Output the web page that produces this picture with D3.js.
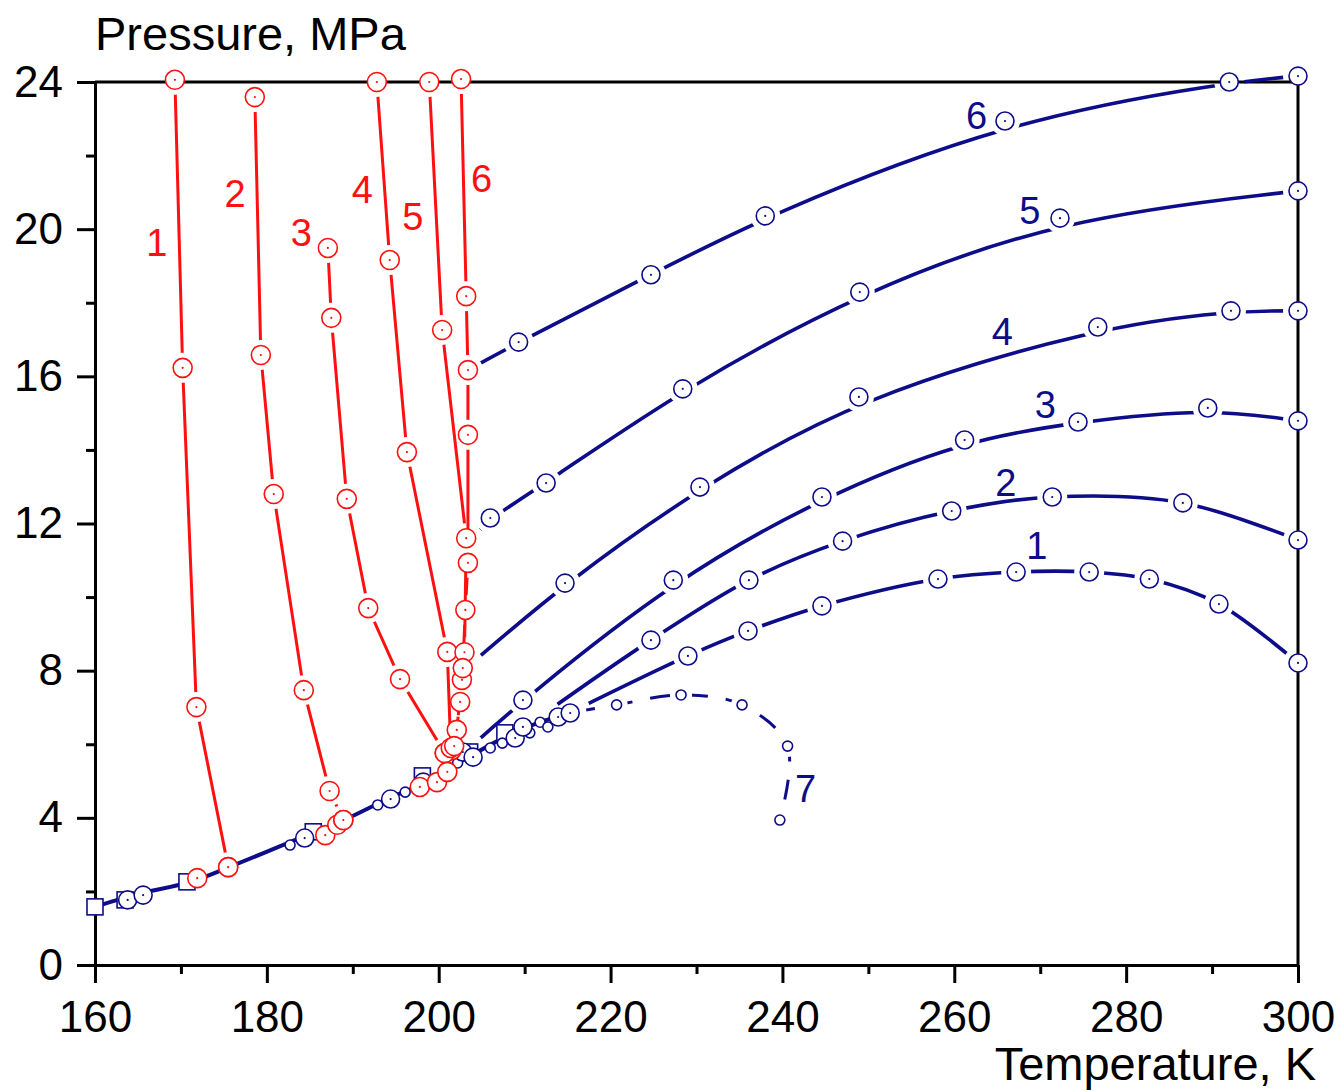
<!DOCTYPE html>
<html>
<head>
<meta charset="utf-8">
<script src="https://cdn.jsdelivr.net/npm/d3@7"></script>
<style>
body { margin: 0; background: #fff; }
svg { display: block; font-family: "Liberation Sans", Arial, sans-serif; }
</style>
</head>
<body>
<svg id="chart" width="1341" height="1091"></svg>
<script>
// colours
const navy = "#0d0d8a", red = "#ff1010";

// red isochores [T (K), P (MPa)]
const red1 = [[169.3, 24.06], [170.2, 16.23], [171.8, 7.01], [175.5, 2.66]];
const red2 = [[178.6, 23.59], [179.3, 16.58], [180.8, 12.80], [184.3, 7.47], [187.3, 4.73], [188.9, 3.94]];
const red3 = [[187.1, 19.49], [187.5, 17.59], [189.3, 12.67], [191.8, 9.70], [195.5, 7.77], [200.7, 5.76]];
const red4 = [[192.8, 24.0], [194.3, 19.16], [196.3, 13.94], [201.0, 8.51], [201.4, 5.9]];
const red5 = [[198.9, 24.0], [200.4, 17.26], [203.2, 11.6], [203.0, 8.5], [202.7, 7.75], [202.1, 6.39], [201.0, 5.25]];
const red6 = [[202.6, 24.08], [203.2, 18.18], [203.4, 16.17], [203.4, 14.41], [203.4, 10.93], [203.1, 9.65],
              [202.8, 8.07], [202.5, 7.15], [201.8, 5.95]];

// blue isochores
const blue1 = [[215.9, 6.93], [229.0, 8.40], [236.0, 9.08], [244.6, 9.76], [258.1, 10.49], [267.2, 10.68],
               [275.7, 10.68], [282.7, 10.49], [290.8, 9.81], [300, 8.21]];
const blue2 = [[212.4, 6.85], [224.7, 8.83], [236.1, 10.46], [247.0, 11.52], [259.7, 12.34], [271.4, 12.72],
               [286.6, 12.56], [300, 11.55]];
const blue3 = [[203.6, 5.9], [209.8, 7.20], [227.3, 10.46], [244.6, 12.72], [261.2, 14.27], [274.4, 14.76],
               [289.5, 15.14], [300, 14.79]];
const blue4 = [[203.6, 8.15], [214.7, 10.38], [230.4, 12.99], [248.9, 15.44], [276.7, 17.34], [292.2, 17.78], [300, 17.78]];
const blue5 = [[203.6, 11.55], [206.0, 12.15], [212.5, 13.10], [228.4, 15.66], [249.0, 18.29], [272.3, 20.30], [300, 21.04]];
const blue6 = [[203.4, 16.17], [209.3, 16.93], [224.7, 18.76], [238.0, 20.36], [265.9, 22.94], [292.0, 24.0], [300, 24.16]];
const curve7 = [[215.9, 6.88], [220.7, 7.07], [228.2, 7.34], [235.3, 7.07], [240.6, 5.95], [239.7, 3.94]];

// saturation line and its points (kind: c circle, s small circle, q square, r red circle)
const satLine = [[160, 1.58], [163.8, 1.85], [165.6, 1.96], [171.1, 2.26], [175.6, 2.66], [182.7, 3.34], [188.5, 3.89],
                 [194.3, 4.54], [197.8, 4.89], [202.5, 5.52], [207.1, 6.12], [211.8, 6.60], [215.9, 6.88]];
const satMarks = [
  [160.0, 1.58, "q"], [163.5, 1.77, "q"], [163.8, 1.77, "c"], [165.6, 1.90, "c"], [170.7, 2.26, "q"],
  [171.9, 2.36, "r"], [175.5, 2.66, "r"], [182.7, 3.26, "s"], [184.4, 3.45, "c"], [185.4, 3.62, "q"],
  [186.8, 3.53, "r"], [188.2, 3.81, "r"], [188.9, 3.94, "r"], [192.9, 4.35, "s"], [194.4, 4.51, "c"],
  [196.1, 4.70, "s"], [198.1, 5.14, "q"], [198.2, 4.97, "c"], [197.8, 4.84, "r"], [199.8, 4.97, "r"],
  [201.1, 5.30, "s"], [202.2, 5.49, "s"], [200.7, 5.76, "r"], [201.5, 5.84, "r"], [202.8, 5.79, "c"],
  [203.6, 5.79, "q"], [204.0, 5.65, "c"], [206.0, 5.90, "s"], [207.4, 6.03, "s"], [207.7, 6.31, "q"],
  [208.9, 6.17, "c"], [209.8, 6.47, "c"], [210.6, 6.31, "s"], [211.8, 6.60, "s"], [212.7, 6.47, "s"],
  [213.9, 6.74, "c"], [215.3, 6.85, "c"]
];

// curve labels [text, T, P, colour key]
const labels = [
  ["1", 167.2, 19.65, "r"], ["2", 176.3, 20.98, "r"], ["3", 184.0, 19.92, "r"], ["4", 191.1, 21.07, "r"],
  ["5", 197.0, 20.36, "r"], ["6", 205.0, 21.39, "r"],
  ["6", 262.6, 23.10, "b"], ["5", 268.8, 20.52, "b"], ["4", 265.6, 17.21, "b"], ["3", 270.6, 15.25, "b"],
  ["2", 266.0, 13.13, "b"], ["1", 269.6, 11.42, "b"], ["7", 242.7, 4.81, "b"]
];

const xMajor = d3.range(160, 301, 20), xMinor = d3.range(170, 300, 20);
const yMajor = d3.range(0, 25, 4), yMinor = d3.range(2, 24, 4);

const svg = d3.select("#chart");
const x = d3.scaleLinear().domain([160, 300]).range([95, 1298]);
const y = d3.scaleLinear().domain([0, 24]).range([965, 82]);

// axes
function styleAxis(g) {
  g.selectAll("path.domain").attr("stroke", "#000").attr("stroke-width", 3);
  g.selectAll(".tick line").attr("stroke", "#000").attr("stroke-width", 3);
  g.selectAll(".tick text").attr("fill", "#000").attr("font-size", 44)
    .attr("font-family", "Liberation Sans, Arial, sans-serif");
}
svg.append("g").attr("transform", "translate(0,965)")
  .call(d3.axisBottom(x).tickValues(xMinor).tickSize(9).tickSizeOuter(0).tickFormat(""))
  .call(styleAxis);
svg.append("g").attr("transform", "translate(0,965)")
  .call(d3.axisBottom(x).tickValues(xMajor).tickSize(18).tickPadding(18).tickSizeOuter(0))
  .call(styleAxis);
svg.append("g").attr("transform", "translate(95,0)")
  .call(d3.axisLeft(y).tickValues(yMinor).tickSize(9).tickSizeOuter(0).tickFormat(""))
  .call(styleAxis);
svg.append("g").attr("transform", "translate(95,0)")
  .call(d3.axisLeft(y).tickValues(yMajor).tickSize(18).tickPadding(14).tickSizeOuter(0))
  .call(styleAxis);

// frame top and right
svg.append("line").attr("x1", x(160)).attr("x2", x(300) + 1.5).attr("y1", y(24)).attr("y2", y(24))
  .attr("stroke", "#000").attr("stroke-width", 3);
svg.append("line").attr("x1", x(300)).attr("x2", x(300)).attr("y1", y(24)).attr("y2", y(0))
  .attr("stroke", "#000").attr("stroke-width", 3);

svg.append("text").attr("x", 95).attr("y", 50).attr("font-size", 47).text("Pressure, MPa");
svg.append("text").attr("x", 1316).attr("y", 1080).attr("font-size", 47).attr("text-anchor", "end")
  .text("Temperature, K");

const defs = svg.append("defs");
let maskId = 0;

// a line that stops short of its own markers
function series(pts, color, curve, width, r, dash) {
  const id = "gap" + (maskId++);
  const m = defs.append("mask").attr("id", id).attr("maskUnits", "userSpaceOnUse")
    .attr("x", 0).attr("y", 0).attr("width", 1341).attr("height", 1091);
  m.append("rect").attr("width", 1341).attr("height", 1091).attr("fill", "#fff");
  m.selectAll("circle").data(pts).join("circle")
    .attr("cx", d => x(d[0])).attr("cy", d => y(d[1])).attr("r", r + 6).attr("fill", "#000");
  const line = d3.line().x(d => x(d[0])).y(d => y(d[1])).curve(curve);
  svg.append("path").datum(pts).attr("d", line).attr("fill", "none").attr("stroke", color)
    .attr("stroke-width", width).attr("stroke-dasharray", dash || null).attr("mask", `url(#${id})`);
}

function markers(pts, color, r, withDot) {
  const g = svg.append("g");
  g.selectAll("circle.m").data(pts).join("circle").attr("class", "m")
    .attr("cx", d => x(d[0])).attr("cy", d => y(d[1])).attr("r", r)
    .attr("fill", "#fff").attr("stroke", color).attr("stroke-width", 1.6);
  if (withDot) {
    g.selectAll("circle.d").data(pts).join("circle").attr("class", "d")
      .attr("cx", d => x(d[0])).attr("cy", d => y(d[1])).attr("r", 1.1).attr("fill", color);
  }
}

// saturation line
svg.append("path").datum(satLine)
  .attr("d", d3.line().x(d => x(d[0])).y(d => y(d[1])).curve(d3.curveCatmullRom))
  .attr("fill", "none").attr("stroke", navy).attr("stroke-width", 4);

const blues = [blue1, blue2, blue3, blue4, blue5, blue6];
blues.forEach((b, i) => series(b, navy, i < 2 ? d3.curveCatmullRom : d3.curveBasis, 3.6, 9));
series(curve7, navy, d3.curveCatmullRom, 3, 5, "20,18");
const reds = [red1, red2, red3, red4, red5, red6];
reds.forEach(s => series(s, red, d3.curveLinear, 3, 9));

// saturation markers
const satG = svg.append("g");
satG.selectAll("rect").data(satMarks.filter(d => d[2] === "q")).join("rect")
  .attr("x", d => x(d[0]) - 8).attr("y", d => y(d[1]) - 8).attr("width", 16).attr("height", 16)
  .attr("fill", "#fff").attr("stroke", navy).attr("stroke-width", 1.6);
markers(satMarks.filter(d => d[2] === "s"), navy, 5, false);
markers(satMarks.filter(d => d[2] === "c"), navy, 9, true);

blues.forEach(b => markers(b.slice(1), navy, 9, true));
markers(curve7.slice(1), navy, 5, false);
markers(satMarks.filter(d => d[2] === "r"), red, 9.5, true);
reds.forEach(s => markers(s, red, 9.5, true));

// curve labels
svg.append("g").selectAll("text").data(labels).join("text")
  .attr("x", d => x(d[1])).attr("y", d => y(d[2])).attr("dy", "0.36em")
  .attr("text-anchor", "middle").attr("font-size", 38)
  .attr("fill", d => d[3] === "r" ? red : navy).text(d => d[0]);
</script>
</body>
</html>
